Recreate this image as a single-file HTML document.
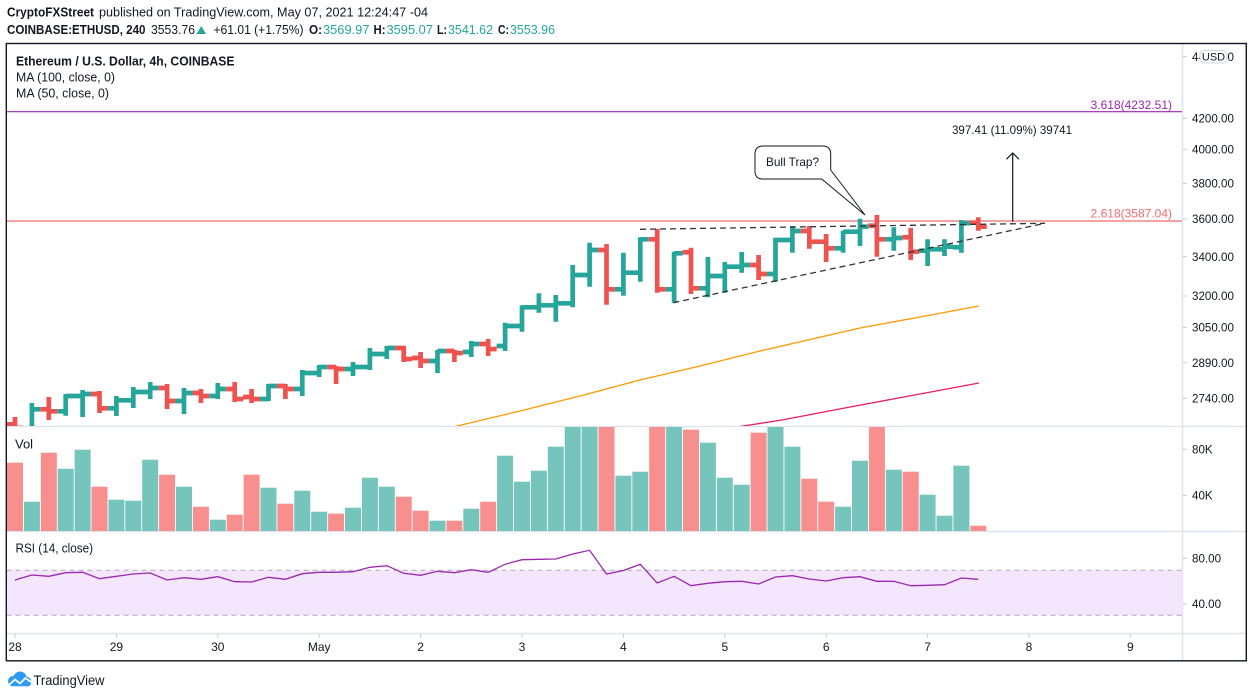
<!DOCTYPE html>
<html><head><meta charset="utf-8"><style>
html,body{margin:0;padding:0;background:#fff;width:1253px;height:698px;overflow:hidden}
svg{display:block}
text{font-family:"Liberation Sans",Arial,sans-serif;fill:#131722}
</style></head><body>
<svg width="1253" height="698" viewBox="0 0 1253 698" xmlns="http://www.w3.org/2000/svg">
<defs>
<clipPath id="pp"><rect x="6.5" y="44" width="1176" height="382"/></clipPath>
<clipPath id="vp"><rect x="6.5" y="427" width="1176" height="104"/></clipPath>
</defs>
<rect width="1253" height="698" fill="#fff"/>

<!-- header -->
<text x="7" y="16.7" font-size="13" font-weight="bold" textLength="87" lengthAdjust="spacingAndGlyphs">CryptoFXStreet</text>
<text x="99" y="16.7" font-size="13" textLength="329" lengthAdjust="spacingAndGlyphs">published on TradingView.com, May 07, 2021 12:24:47 -04</text>
<text x="7" y="34" font-size="13" font-weight="bold" textLength="138.5" lengthAdjust="spacingAndGlyphs">COINBASE:ETHUSD, 240</text>
<text x="151" y="34" font-size="13" textLength="44" lengthAdjust="spacingAndGlyphs">3553.76</text>
<polygon points="196.5,34 201.3,26 206,34" fill="#26a69a"/>
<text x="213.5" y="34" font-size="13" textLength="90" lengthAdjust="spacingAndGlyphs">+61.01 (+1.75%)</text>
<text x="309" y="34" font-size="13" font-weight="bold" textLength="13" lengthAdjust="spacingAndGlyphs">O:</text>
<text x="323" y="34" font-size="13" fill="#26a69a" style="fill:#26a69a" textLength="46.5" lengthAdjust="spacingAndGlyphs">3569.97</text>
<text x="373.5" y="34" font-size="13" font-weight="bold" textLength="12" lengthAdjust="spacingAndGlyphs">H:</text>
<text x="386.5" y="34" font-size="13" style="fill:#26a69a" textLength="46.5" lengthAdjust="spacingAndGlyphs">3595.07</text>
<text x="437" y="34" font-size="13" font-weight="bold" textLength="10" lengthAdjust="spacingAndGlyphs">L:</text>
<text x="448" y="34" font-size="13" style="fill:#26a69a" textLength="45" lengthAdjust="spacingAndGlyphs">3541.62</text>
<text x="498" y="34" font-size="13" font-weight="bold" textLength="11" lengthAdjust="spacingAndGlyphs">C:</text>
<text x="510" y="34" font-size="13" style="fill:#26a69a" textLength="45" lengthAdjust="spacingAndGlyphs">3553.96</text>

<!-- frame & separators -->
<line x1="6.5" y1="426.5" x2="1246" y2="426.5" stroke="#e0e3eb" stroke-width="1.5"/>
<line x1="6.5" y1="531.5" x2="1246" y2="531.5" stroke="#e0e3eb" stroke-width="1.5"/>
<line x1="6.5" y1="633.5" x2="1246" y2="633.5" stroke="#e0e3eb" stroke-width="1.5"/>
<line x1="1182.5" y1="44" x2="1182.5" y2="660.5" stroke="#e0e3eb" stroke-width="1.5"/>

<!-- legend -->
<text x="16" y="65.5" font-size="13" font-weight="bold" textLength="218.5" lengthAdjust="spacingAndGlyphs">Ethereum / U.S. Dollar, 4h, COINBASE</text>
<text x="16" y="81.3" font-size="13" textLength="99" lengthAdjust="spacingAndGlyphs">MA (100, close, 0)</text>
<text x="16" y="97.5" font-size="13" textLength="93" lengthAdjust="spacingAndGlyphs">MA (50, close, 0)</text>

<!-- fib lines -->
<line x1="6.5" y1="111.7" x2="1182" y2="111.7" stroke="#9c27b0" stroke-width="1.2"/>
<text x="1172" y="109" font-size="12" text-anchor="end" style="fill:#9c27b0">3.618(4232.51)</text>
<line x1="6.5" y1="221" x2="1182" y2="221" stroke="#ef6b6b" stroke-width="1.2"/>
<text x="1172" y="217.5" font-size="12" text-anchor="end" style="fill:#f06c6c">2.618(3587.04)</text>

<g clip-path="url(#pp)">
<!-- MAs -->
<polyline points="455,426.5 520,411 580,396 640,380 700,366 760,351 808,340 860,328 920,317 979,306" fill="none" stroke="#ff9800" stroke-width="1.3"/>
<polyline points="740,426.5 782,420 850,407 920,394 979,383" fill="none" stroke="#e91e63" stroke-width="1.3"/>
<!-- bars -->
<path fill="none" stroke="#26a69a" stroke-width="4.7" stroke-linecap="butt" d="
M31.9,403V430M23.45,430H31.9M31.9,409.3H40.35
M65.7,394V415.7M57.25,411.3H65.7M65.7,396H74.15
M82.6,390V417M74.15,396H82.6M82.6,394H91.05
M116.4,396V416M107.95,408.3H116.4M116.4,400.3H124.85
M133.3,387V408M124.85,400.3H133.3M133.3,392H141.75
M150.2,382V399M141.75,392H150.2M150.2,388H158.65
M184,388V414M175.55,401H184M184,393H192.45
M217.8,383V399M209.35,396H217.8M217.8,389H226.25
M268.5,384V401M260.05,399H268.5M268.5,386H276.95
M302.3,370V396M293.85,389H302.3M302.3,373H310.75
M319.2,365V377M310.75,373H319.2M319.2,367H327.65
M353,362V376M344.55,369H353M353,367H361.45
M369.9,348V370M361.45,367H369.9M369.9,354H378.35
M386.8,346V359M378.35,354H386.8M386.8,348H395.25
M437.5,350V373M429.05,361H437.5M437.5,351H445.95
M471.3,341V357M462.85,352H471.3M471.3,344H479.75
M505.1,322.7V351M496.65,346H505.1M505.1,326H513.55
M522,305.3V331.7M513.55,326H522M522,307.3H530.45
M538.9,293.3V312.7M530.45,307.3H538.9M538.9,305.3H547.35
M555.8,295V321.7M547.35,305.3H555.8M555.8,303.3H564.25
M572.7,265V307.3M564.25,303.3H572.7M572.7,275H581.15
M589.6,242.7V286.7M581.15,275H589.6M589.6,250H598.05
M623.4,252.7V295.7M614.95,289.3H623.4M623.4,272.7H631.85
M640.3,237.3V281.7M631.85,272.7H640.3M640.3,239.3H648.75
M674.1,251.7V302.7M665.65,289.3H674.1M674.1,253.3H682.55
M707.9,257V297.3M699.45,288.3H707.9M707.9,276H716.35
M724.8,262V292.7M716.35,276H724.8M724.8,266.7H733.25
M741.7,252V272.7M733.25,266.7H741.7M741.7,265H750.15
M775.5,237.7V281.7M767.05,274H775.5M775.5,240H783.95
M792.4,226V252.7M783.95,240H792.4M792.4,231H800.85
M843.1,230.7V252.7M834.65,248.3H843.1M843.1,231.7H851.55
M860,218.7V246M851.55,231.7H860M860,226.7H868.45
M893.8,227.3V250.7M885.35,239.3H893.8M893.8,238H902.25
M927.6,239.3V266M919.15,250.7H927.6M927.6,249.3H936.05
M944.5,239.3V256M936.05,249.3H944.5M944.5,246.7H952.95
M961.4,220V252.7M952.95,247.3H961.4M961.4,223.3H969.85"/>
<path fill="none" stroke="#ef5350" stroke-width="4.7" stroke-linecap="butt" d="
M15,417V430M6.55,424.3H15M15,428H23.45
M48.8,397V420M40.35,409.3H48.8M48.8,411.3H57.25
M99.5,391V413M91.05,394H99.5M99.5,408.3H107.95
M167.1,384V409M158.65,388H167.1M167.1,401H175.55
M200.9,389V403M192.45,393H200.9M200.9,396H209.35
M234.7,382V402M226.25,389H234.7M234.7,399H243.15
M251.6,389V403M243.15,397H251.6M251.6,399H260.05
M285.4,384V399M276.95,386H285.4M285.4,389H293.85
M336.1,366V384M327.65,367H336.1M336.1,369H344.55
M403.7,346V362M395.25,348H403.7M403.7,359H412.15
M420.6,352V368M412.15,358H420.6M420.6,361H429.05
M454.4,350V362M445.95,351H454.4M454.4,353H462.85
M488.2,339V356M479.75,344H488.2M488.2,349H496.65
M606.5,244V304.7M598.05,250H606.5M606.5,289.3H614.95
M657.2,229V292.7M648.75,239.3H657.2M657.2,289.3H665.65
M691,247.7V294M682.55,252.3H691M691,288.3H699.45
M758.6,255V280M750.15,265H758.6M758.6,274H767.05
M809.3,226V248.7M800.85,231H809.3M809.3,241.7H817.75
M826.2,234V262M817.75,241.7H826.2M826.2,248.3H834.65
M876.9,215V256.7M868.45,225.7H876.9M876.9,239.3H885.35
M910.7,228V260M902.25,237.3H910.7M910.7,251.7H919.15
M978.3,217.3V230.7M969.85,222.7H978.3M978.3,226.7H986.75"/>
<!-- trendlines -->
<line x1="640" y1="229.3" x2="1045" y2="223.3" stroke="#333" stroke-width="1.3" stroke-dasharray="6 4"/>
<line x1="673.3" y1="302.7" x2="1045" y2="223.3" stroke="#333" stroke-width="1.3" stroke-dasharray="6 4"/>
</g>

<!-- arrow & measurement -->
<line x1="1012.7" y1="221.7" x2="1012.7" y2="153" stroke="#131722" stroke-width="1.2"/>
<polyline points="1006.5,159.2 1012.7,153 1018.9,159.2" fill="none" stroke="#131722" stroke-width="1.2"/>
<text x="952" y="134" font-size="12" textLength="120" lengthAdjust="spacingAndGlyphs">397.41 (11.09%) 39741</text>

<!-- callout -->
<path d="M763,146 H822.7 Q830.7,146 830.7,154 V170 L865,215 L821.7,179 H763 Q755,179 755,171 V154 Q755,146 763,146 Z" fill="#fff" stroke="#131722" stroke-width="1"/>
<text x="766" y="166" font-size="12" textLength="53" lengthAdjust="spacingAndGlyphs">Bull Trap?</text>

<!-- volume -->
<text x="15" y="448.5" font-size="13">Vol</text>
<g clip-path="url(#vp)">
<g fill="#75c5bd">
<rect x="23.9" y="501.7" width="16" height="29.3"/>
<rect x="57.7" y="468.7" width="16" height="62.3"/>
<rect x="74.6" y="449.7" width="16" height="81.3"/>
<rect x="108.4" y="499.7" width="16" height="31.3"/>
<rect x="125.3" y="500.7" width="16" height="30.3"/>
<rect x="142.2" y="459.7" width="16" height="71.3"/>
<rect x="176" y="486.7" width="16" height="44.3"/>
<rect x="209.8" y="519.7" width="16" height="11.3"/>
<rect x="260.5" y="487.7" width="16" height="43.3"/>
<rect x="294.3" y="490.7" width="16" height="40.3"/>
<rect x="311.2" y="511.7" width="16" height="19.3"/>
<rect x="345" y="507.7" width="16" height="23.3"/>
<rect x="361.9" y="477.7" width="16" height="53.3"/>
<rect x="378.8" y="486.7" width="16" height="44.3"/>
<rect x="429.5" y="520.7" width="16" height="10.3"/>
<rect x="463.3" y="508.7" width="16" height="22.3"/>
<rect x="497.1" y="455.7" width="16" height="75.3"/>
<rect x="514" y="481.7" width="16" height="49.3"/>
<rect x="530.9" y="470.7" width="16" height="60.3"/>
<rect x="547.8" y="446.7" width="16" height="84.3"/>
<rect x="564.7" y="427" width="16" height="104"/>
<rect x="581.6" y="427" width="16" height="104"/>
<rect x="615.4" y="475.7" width="16" height="55.3"/>
<rect x="632.3" y="471.7" width="16" height="59.3"/>
<rect x="666.1" y="427" width="16" height="104"/>
<rect x="699.9" y="442.7" width="16" height="88.3"/>
<rect x="716.8" y="477.7" width="16" height="53.3"/>
<rect x="733.7" y="484.7" width="16" height="46.3"/>
<rect x="767.5" y="427" width="16" height="104"/>
<rect x="784.4" y="446.7" width="16" height="84.3"/>
<rect x="835.1" y="506.7" width="16" height="24.3"/>
<rect x="852" y="460.7" width="16" height="70.3"/>
<rect x="885.8" y="469.7" width="16" height="61.3"/>
<rect x="919.6" y="494.7" width="16" height="36.3"/>
<rect x="936.5" y="515.7" width="16" height="15.3"/>
<rect x="953.4" y="465.7" width="16" height="65.3"/>
</g>
<g fill="#f78f8e">
<rect x="7" y="462.7" width="16" height="68.3"/>
<rect x="40.8" y="452.7" width="16" height="78.3"/>
<rect x="91.5" y="486.7" width="16" height="44.3"/>
<rect x="159.1" y="474.7" width="16" height="56.3"/>
<rect x="192.9" y="506.7" width="16" height="24.3"/>
<rect x="226.7" y="514.7" width="16" height="16.3"/>
<rect x="243.6" y="474.7" width="16" height="56.3"/>
<rect x="277.4" y="503.7" width="16" height="27.3"/>
<rect x="328.1" y="513.7" width="16" height="17.3"/>
<rect x="395.7" y="496.7" width="16" height="34.3"/>
<rect x="412.6" y="510.7" width="16" height="20.3"/>
<rect x="446.4" y="520.7" width="16" height="10.3"/>
<rect x="480.2" y="501.7" width="16" height="29.3"/>
<rect x="598.5" y="427" width="16" height="104"/>
<rect x="649.2" y="427" width="16" height="104"/>
<rect x="683" y="429.7" width="16" height="101.3"/>
<rect x="750.6" y="432.7" width="16" height="98.3"/>
<rect x="801.3" y="478.7" width="16" height="52.3"/>
<rect x="818.2" y="501.7" width="16" height="29.3"/>
<rect x="868.9" y="427" width="16" height="104"/>
<rect x="902.7" y="471.7" width="16" height="59.3"/>
<rect x="970.3" y="525.7" width="16" height="5.3"/>
</g>
</g>

<!-- RSI -->
<text x="15.5" y="552.5" font-size="13" textLength="77.5" lengthAdjust="spacingAndGlyphs">RSI (14, close)</text>
<rect x="6.5" y="570.3" width="1176" height="45" fill="#f3e6fd"/>
<line x1="6.5" y1="570.3" x2="1182" y2="570.3" stroke="#b2a9b8" stroke-width="1" stroke-dasharray="5 4"/>
<line x1="6.5" y1="615.3" x2="1182" y2="615.3" stroke="#b2a9b8" stroke-width="1" stroke-dasharray="5 4"/>
<polyline fill="none" stroke="#9c27b0" stroke-width="1.3" points="15,580 31.9,575 48.8,576.3 65.7,572.7 82.6,572.3 99.5,578.7 116.4,576.3 133.3,574 150.2,573 167.1,580 184,577.7 200.9,579.3 217.8,576.7 234.7,581.7 251.6,582 268.5,577.3 285.4,579.3 302.3,573.7 319.2,572.3 336.1,572.3 353,571.7 369.9,567.3 386.8,565.7 403.7,573.3 420.6,575.3 437.5,571.3 454.4,572.7 471.3,569.7 488.2,572.3 505.1,564.3 522,559.7 538.9,559.3 555.8,559 572.7,554 589.6,550.3 606.5,574 623.4,570.5 640.3,564.3 657.2,583 674.1,576.3 691,585.7 707.9,583.3 724.8,581.7 741.7,581.3 758.6,584 775.5,577 792.4,575.7 809.3,579 826.2,581 843.1,577.7 860,576.7 876.9,581.3 893.8,581.3 910.7,585.7 927.6,585.3 944.5,584.7 961.4,578 978.3,579.3"/>

<!-- right axis ticks & labels -->
<g stroke="#c9cbd1" stroke-width="1">
<line x1="1183" y1="56.7" x2="1187" y2="56.7"/>
<line x1="1183" y1="118.3" x2="1187" y2="118.3"/>
<line x1="1183" y1="149.3" x2="1187" y2="149.3"/>
<line x1="1183" y1="183.3" x2="1187" y2="183.3"/>
<line x1="1183" y1="219" x2="1187" y2="219"/>
<line x1="1183" y1="256.7" x2="1187" y2="256.7"/>
<line x1="1183" y1="296" x2="1187" y2="296"/>
<line x1="1183" y1="327.3" x2="1187" y2="327.3"/>
<line x1="1183" y1="362.7" x2="1187" y2="362.7"/>
<line x1="1183" y1="398.3" x2="1187" y2="398.3"/>
<line x1="1183" y1="449.3" x2="1187" y2="449.3"/>
<line x1="1183" y1="495.3" x2="1187" y2="495.3"/>
<line x1="1183" y1="558.3" x2="1187" y2="558.3"/>
<line x1="1183" y1="604" x2="1187" y2="604"/>
</g>
<g font-size="11.6">
<text x="1192" y="60.8">4400.00</text>
<text x="1192" y="122.4">4200.00</text>
<text x="1192" y="153.4">4000.00</text>
<text x="1192" y="187.4">3800.00</text>
<text x="1192" y="223.1">3600.00</text>
<text x="1192" y="260.8">3400.00</text>
<text x="1192" y="300.1">3200.00</text>
<text x="1192" y="331.4">3050.00</text>
<text x="1192" y="366.8">2890.00</text>
<text x="1192" y="402.4">2740.00</text>
<text x="1192" y="453.4">80K</text>
<text x="1192" y="499.4">40K</text>
<text x="1192" y="562.4">80.00</text>
<text x="1192" y="608.1">40.00</text>
</g>
<rect x="1200" y="50.5" width="27" height="12.5" rx="4" fill="#fff" stroke="#d1d4dc" stroke-width="1"/>
<text x="1213.5" y="60.5" font-size="11" text-anchor="middle">USD</text>

<!-- time axis -->
<g stroke="#c9cbd1" stroke-width="1">
<line x1="15" y1="634" x2="15" y2="638"/><line x1="116.4" y1="634" x2="116.4" y2="638"/>
<line x1="217.8" y1="634" x2="217.8" y2="638"/><line x1="319.2" y1="634" x2="319.2" y2="638"/>
<line x1="420.6" y1="634" x2="420.6" y2="638"/><line x1="522" y1="634" x2="522" y2="638"/>
<line x1="623.4" y1="634" x2="623.4" y2="638"/><line x1="724.8" y1="634" x2="724.8" y2="638"/>
<line x1="826.2" y1="634" x2="826.2" y2="638"/><line x1="927.6" y1="634" x2="927.6" y2="638"/>
<line x1="1029" y1="634" x2="1029" y2="638"/><line x1="1130.4" y1="634" x2="1130.4" y2="638"/>
</g>
<g font-size="12" text-anchor="middle">
<text x="15" y="651">28</text>
<text x="116.4" y="651">29</text>
<text x="217.8" y="651">30</text>
<text x="319.2" y="651">May</text>
<text x="420.6" y="651">2</text>
<text x="522" y="651">3</text>
<text x="623.4" y="651">4</text>
<text x="724.8" y="651">5</text>
<text x="826.2" y="651">6</text>
<text x="927.6" y="651">7</text>
<text x="1029" y="651">8</text>
<text x="1130.4" y="651">9</text>
</g>

<!-- outer frame -->
<rect x="6.3" y="43.5" width="1240" height="617.3" fill="none" stroke="#131722" stroke-width="1.4"/>

<!-- TradingView logo -->
<g>
<circle cx="13" cy="681" r="5" fill="#2a9af3"/>
<circle cx="20" cy="678" r="6.5" fill="#2a9af3"/>
<circle cx="26.5" cy="681.5" r="4.8" fill="#2a9af3"/>
<rect x="9" y="680" width="22" height="6.3" rx="3" fill="#2a9af3"/>
<polyline points="9,685 15,679.5 20,683.5 25.5,678 31,682" fill="none" stroke="#fff" stroke-width="1.8"/>
</g>
<text x="33.5" y="685" font-size="13.5" textLength="71" lengthAdjust="spacingAndGlyphs">TradingView</text>
</svg>
</body></html>
